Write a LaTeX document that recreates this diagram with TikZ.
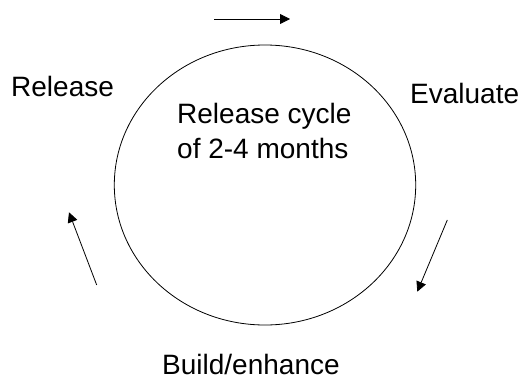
\documentclass[tikz,border=0pt]{standalone}
\usepackage{fontspec}
\setmainfont{Liberation Sans}
\usetikzlibrary{shapes.geometric,arrows.meta}
\tikzset{
  lbl/.style={anchor=base west, inner sep=0pt, font=\fontsize{28}{35}\selectfont},
  flow/.style={line width=0.8pt, -{Triangle[length=10pt,width=10pt]}},
  cyclering/.style={draw, ellipse, line width=0.8pt, minimum width=301.4pt, minimum height=280pt, inner sep=0pt}
}
\begin{document}
\begin{tikzpicture}[x=1pt,y=-1pt]
\useasboundingbox (0,0) rectangle (521,380);
\node[cyclering] (cyc) at (265,185) {};
\node[lbl] (rel) at (11,96) {Release};
\node[lbl] (eva) at (410,103.3) {Evaluate};
\node[lbl] (c1) at (177,123.3) {Release cycle};
\node[lbl] (c2) at (177,158.3) {of 2-4 months};
\node[lbl] (bld) at (162,374.3) {Build/enhance};
\coordinate (ta) at (214,19);
\coordinate (tb) at (290,19);
\coordinate (ra) at (447.3,220);
\coordinate (rb) at (417.3,291.7);
\coordinate (la) at (96.7,285);
\coordinate (lb) at (69,212.3);
\draw[flow] (ta) -- (tb);
\draw[flow] (ra) -- (rb);
\draw[flow] (la) -- (lb);
\end{tikzpicture}
\end{document}
